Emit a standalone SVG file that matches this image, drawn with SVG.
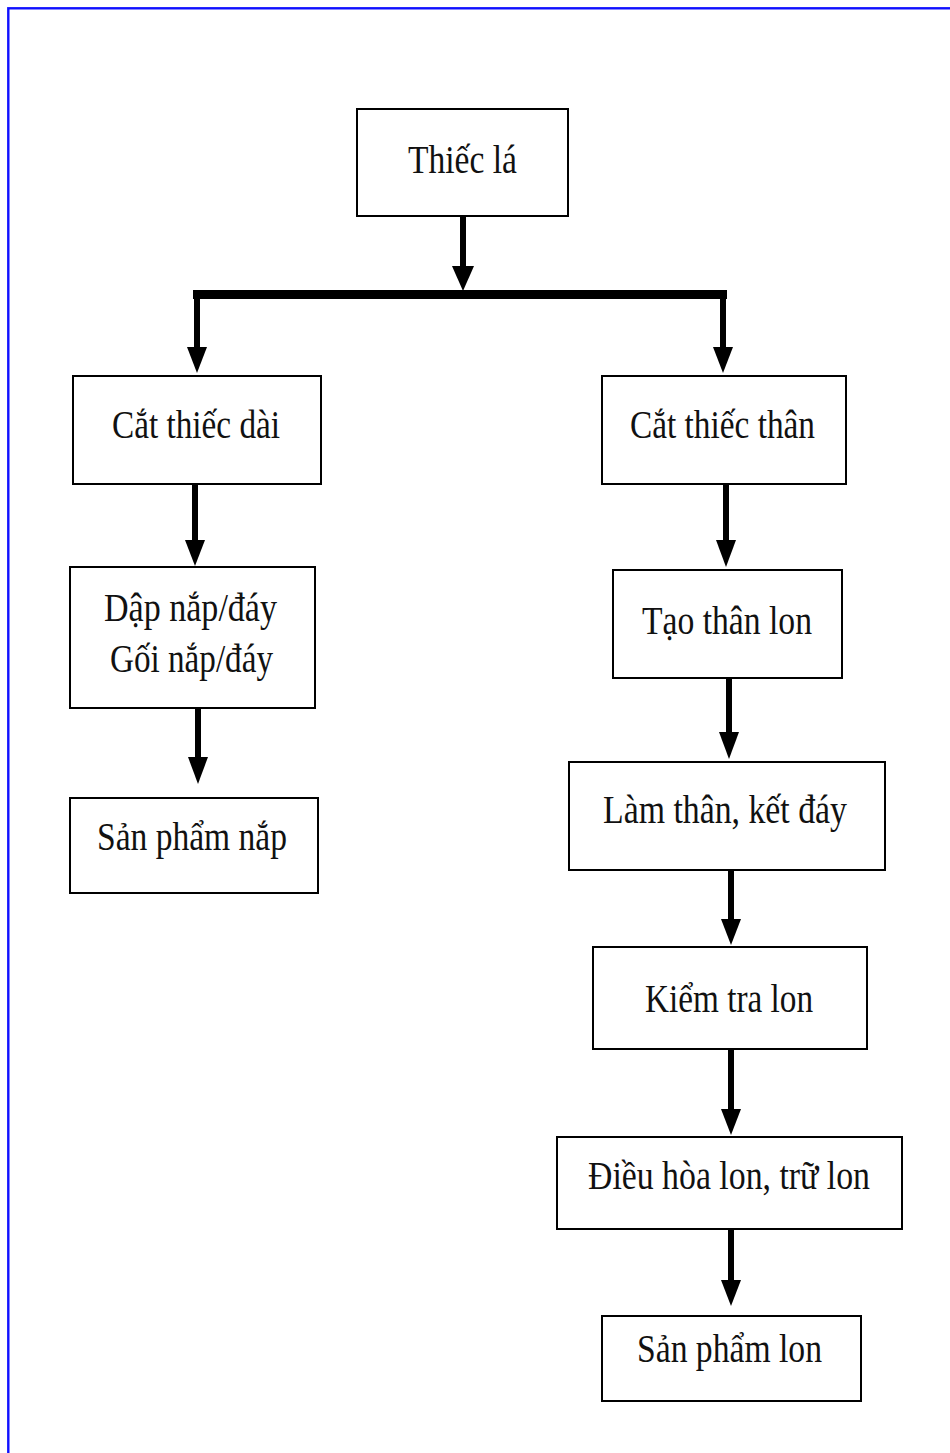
<svg xmlns="http://www.w3.org/2000/svg" width="950" height="1453" viewBox="0 0 950 1453">
<style>
.box{fill:#fff;stroke:#000;stroke-width:2}
.lbl{font-family:"Liberation Serif","Times New Roman",serif;font-size:40px;fill:#111}
.stem{stroke:#000;stroke-width:6;fill:none}
.head{fill:#000}
</style>
<rect x="0" y="0" width="950" height="1453" fill="#fff"/>
<rect x="8.3" y="8.3" width="960" height="1470" fill="none" stroke="#1010ff" stroke-width="2.4"/>
<g id="connectors">
  <line class="stem" x1="463" y1="217" x2="463" y2="268"/>
  <polygon class="head" points="452,266 474,266 463,291"/>
  <rect x="193" y="290" width="534" height="9" fill="#000"/>
  <line class="stem" x1="197" y1="294" x2="197" y2="350"/>
  <polygon class="head" points="187,347 207,347 197,373"/>
  <line class="stem" x1="723" y1="294" x2="723" y2="350"/>
  <polygon class="head" points="713,347 733,347 723,373"/>
  <line class="stem" x1="195" y1="484" x2="195" y2="543"/>
  <polygon class="head" points="185,540 205,540 195,566"/>
  <line class="stem" x1="198" y1="708" x2="198" y2="760"/>
  <polygon class="head" points="188,757 208,757 198,784"/>
  <line class="stem" x1="726" y1="484" x2="726" y2="543"/>
  <polygon class="head" points="716,540 736,540 726,567"/>
  <line class="stem" x1="729" y1="678" x2="729" y2="735"/>
  <polygon class="head" points="719,732 739,732 729,759"/>
  <line class="stem" x1="731" y1="870" x2="731" y2="922"/>
  <polygon class="head" points="721,919 741,919 731,945"/>
  <line class="stem" x1="731" y1="1049" x2="731" y2="1112"/>
  <polygon class="head" points="721,1109 741,1109 731,1135"/>
  <line class="stem" x1="731" y1="1229" x2="731" y2="1283"/>
  <polygon class="head" points="721,1280 741,1280 731,1306"/>
</g>
<g id="n-thiec-la">
  <rect class="box" x="357" y="109" width="211" height="107"/>
  <text class="lbl" x="408" y="173" textLength="109" lengthAdjust="spacingAndGlyphs">Thiếc lá</text>
</g>
<g id="n-cat-thiec-dai">
  <rect class="box" x="73" y="376" width="248" height="108"/>
  <text class="lbl" x="112" y="438" textLength="168" lengthAdjust="spacingAndGlyphs">Cắt thiếc dài</text>
</g>
<g id="n-cat-thiec-than">
  <rect class="box" x="602" y="376" width="244" height="108"/>
  <text class="lbl" x="630" y="438" textLength="185" lengthAdjust="spacingAndGlyphs">Cắt thiếc thân</text>
</g>
<g id="n-dap-nap">
  <rect class="box" x="70" y="567" width="245" height="141"/>
  <text class="lbl" x="104" y="621" textLength="173" lengthAdjust="spacingAndGlyphs">Dập nắp/đáy</text>
  <text class="lbl" x="110" y="672" textLength="163" lengthAdjust="spacingAndGlyphs">Gối nắp/đáy</text>
</g>
<g id="n-san-pham-nap">
  <rect class="box" x="70" y="798" width="248" height="95"/>
  <text class="lbl" x="97" y="850" textLength="190" lengthAdjust="spacingAndGlyphs">Sản phẩm nắp</text>
</g>
<g id="n-tao-than-lon">
  <rect class="box" x="613" y="570" width="229" height="108"/>
  <text class="lbl" x="642" y="634" textLength="170" lengthAdjust="spacingAndGlyphs">Tạo thân lon</text>
</g>
<g id="n-lam-than">
  <rect class="box" x="569" y="762" width="316" height="108"/>
  <text class="lbl" x="603" y="823" textLength="244" lengthAdjust="spacingAndGlyphs">Làm thân, kết đáy</text>
</g>
<g id="n-kiem-tra">
  <rect class="box" x="593" y="947" width="274" height="102"/>
  <text class="lbl" x="645" y="1012" textLength="168" lengthAdjust="spacingAndGlyphs">Kiểm tra lon</text>
</g>
<g id="n-dieu-hoa">
  <rect class="box" x="557" y="1137" width="345" height="92"/>
  <text class="lbl" x="588" y="1189" textLength="282" lengthAdjust="spacingAndGlyphs">Điều hòa lon, trữ lon</text>
</g>
<g id="n-san-pham-lon">
  <rect class="box" x="602" y="1316" width="259" height="85"/>
  <text class="lbl" x="637" y="1362" textLength="185" lengthAdjust="spacingAndGlyphs">Sản phẩm lon</text>
</g>
</svg>
